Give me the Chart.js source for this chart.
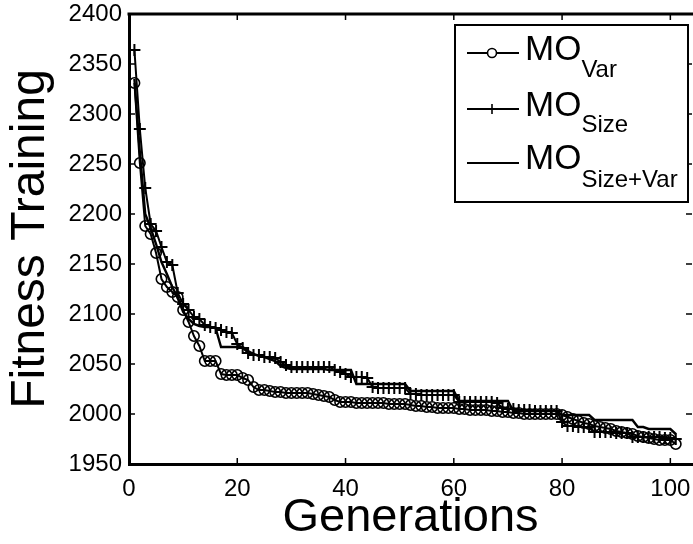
<!DOCTYPE html>
<html lang="en">
<head>
  <meta charset="UTF-8">
  <title>Fitness Training vs Generations</title>
  <style>
    body {
      margin: 0;
      background: #fff;
    }
    .chart-container {
      position: relative;
      width: 693px;
      height: 544px;
    }
  </style>
</head>
<body>
  <div class="chart-container">
    <canvas id="fitnessChart"></canvas>
  </div>

  <script src="https://cdn.jsdelivr.net/npm/chart.js"></script>
  <script>
    // Generation index (1..101)
    const generations = Array.from({ length: 101 }, (_, i) => i + 1);

    const moVar = [
      2331, 2251, 2188, 2180, 2161, 2135, 2127, 2122, 2117, 2104,
      2092, 2078, 2068, 2053, 2053, 2053, 2040, 2039, 2039, 2039,
      2036, 2034, 2027, 2024, 2024, 2023, 2022, 2022, 2021, 2021,
      2021, 2021, 2021, 2020, 2019, 2018, 2017, 2014, 2012, 2012,
      2012, 2011, 2011, 2011, 2011, 2011, 2011, 2010, 2010, 2010,
      2010, 2009, 2008, 2008, 2007, 2007, 2006, 2006, 2006, 2006,
      2005, 2005, 2004, 2004, 2004, 2004, 2003, 2003, 2002, 2002,
      2001, 2001, 2000, 2000, 2000, 2000, 2000, 2000, 2000, 1999,
      1997, 1995, 1993, 1991, 1990, 1988, 1987, 1986, 1985, 1983,
      1982, 1981, 1980, 1978, 1977, 1976, 1975, 1974, 1974, 1974,
      1970
    ];

    const moSize = [
      2364, 2285, 2226, 2190, 2183, 2167, 2152, 2149, 2121, 2110,
      2104, 2097, 2095, 2089, 2087, 2086, 2084, 2082, 2081, 2070,
      2066, 2061, 2059, 2059, 2057, 2057, 2056, 2052, 2049, 2047,
      2047, 2047, 2047, 2047, 2047, 2047, 2047, 2044, 2042, 2040,
      2037, 2037, 2037, 2036, 2027, 2026, 2026, 2026, 2026, 2026,
      2026, 2020, 2020, 2019, 2019, 2019, 2019, 2019, 2019, 2019,
      2012, 2012, 2012, 2012, 2012, 2012, 2012, 2011, 2006, 2005,
      2005, 2004, 2004, 2004, 2003, 2003, 2003, 2003, 2003, 1992,
      1988, 1988, 1987, 1987, 1987, 1982, 1982, 1982, 1982, 1981,
      1981, 1981, 1977, 1977, 1977, 1977, 1977, 1977, 1976, 1976,
      1975
    ];

    const moSizeVar = [
      2335, 2262, 2200, 2186, 2170, 2152, 2140, 2127, 2116, 2102,
      2095, 2090, 2088, 2087, 2087, 2086, 2067, 2067, 2067, 2067,
      2067, 2063, 2060, 2058, 2057, 2055, 2053, 2048, 2046, 2045,
      2045, 2045, 2045, 2045, 2045, 2045, 2044, 2044, 2044, 2044,
      2044, 2030, 2030, 2030, 2030, 2030, 2030, 2030, 2030, 2030,
      2030, 2023, 2023, 2023, 2023, 2023, 2023, 2023, 2023, 2023,
      2013, 2013, 2013, 2013, 2013, 2013, 2013, 2013, 2013, 2013,
      2003, 2003, 2003, 2003, 2003, 2003, 2003, 2003, 2003, 1999,
      1999, 1999, 1999, 1999, 1999, 1994, 1994, 1994, 1994, 1994,
      1994, 1994, 1994, 1987, 1987, 1985, 1985, 1985, 1985, 1985,
      1980
    ];

    const xTicks = [0, 20, 40, 60, 80, 100];
    const yTicks = [1950, 2000, 2050, 2100, 2150, 2200, 2250, 2300, 2350, 2400];

    const legendItems = [
      { main: 'MO', sub: 'Var', marker: 'circle' },
      { main: 'MO', sub: 'Size', marker: 'plus' },
      { main: 'MO', sub: 'Size+Var', marker: null }
    ];

    const FONT = "'Liberation Sans', Arial, sans-serif";

    function toPoints(values) {
      return values.map((v, i) => ({ x: generations[i], y: v }));
    }

    // matlab-style box: top edge + inward ticks on all four sides
    const framePlugin = {
      id: 'frame',
      afterDraw(chart) {
        const ctx = chart.ctx;
        const a = chart.chartArea;
        const xs = chart.scales.x;
        const ys = chart.scales.y;
        const len = 6;
        ctx.save();
        ctx.strokeStyle = '#000';
        ctx.lineWidth = 3;
        ctx.beginPath();
        ctx.moveTo(a.left - 1.5, a.top);
        ctx.lineTo(a.right + 2, a.top);
        ctx.stroke();
        ctx.lineWidth = 1.5;
        ctx.beginPath();
        xTicks.forEach(t => {
          const px = xs.getPixelForValue(t);
          ctx.moveTo(px, a.bottom);
          ctx.lineTo(px, a.bottom - len);
          ctx.moveTo(px, a.top);
          ctx.lineTo(px, a.top + len);
        });
        yTicks.forEach(t => {
          const py = ys.getPixelForValue(t);
          ctx.moveTo(a.left, py);
          ctx.lineTo(a.left + len, py);
          ctx.moveTo(a.right, py);
          ctx.lineTo(a.right - len, py);
        });
        ctx.stroke();
        ctx.restore();
      }
    };

    // legend box with subscripted labels
    const legendPlugin = {
      id: 'subLegend',
      afterDraw(chart) {
        const ctx = chart.ctx;
        const rows = [53, 109, 163];
        const mainBase = [60, 116, 169];
        const subBase = [77, 132, 187];
        ctx.save();
        ctx.fillStyle = '#fff';
        ctx.fillRect(455, 25, 233, 177);
        ctx.strokeStyle = '#000';
        ctx.lineWidth = 2;
        ctx.strokeRect(455, 25, 233, 177);
        legendItems.forEach((item, i) => {
          const y = rows[i];
          ctx.lineWidth = 2.2;
          ctx.beginPath();
          ctx.moveTo(467, y);
          ctx.lineTo(519, y);
          ctx.stroke();
          ctx.lineWidth = 1.6;
          if (item.marker === 'circle') {
            ctx.fillStyle = '#fff';
            ctx.beginPath();
            ctx.arc(492, y, 4.5, 0, Math.PI * 2);
            ctx.fill();
            ctx.stroke();
          } else if (item.marker === 'plus') {
            ctx.beginPath();
            ctx.moveTo(492, y - 5);
            ctx.lineTo(492, y + 5);
            ctx.stroke();
          }
          ctx.fillStyle = '#000';
          ctx.textBaseline = 'alphabetic';
          ctx.textAlign = 'left';
          ctx.font = '35px ' + FONT;
          ctx.fillText(item.main, 525, mainBase[i]);
          const w = ctx.measureText(item.main).width;
          ctx.font = '24px ' + FONT;
          ctx.fillText(item.sub, 525 + w, subBase[i]);
        });
        ctx.restore();
      }
    };

    const ctx = document.getElementById('fitnessChart').getContext('2d');
    new Chart(ctx, {
      type: 'line',
      data: {
        datasets: [
          {
            label: 'MO Var',
            data: toPoints(moVar),
            borderColor: '#000',
            borderWidth: 2,
            pointStyle: 'circle',
            pointRadius: 5.2,
            pointBorderWidth: 1.6,
            pointBorderColor: '#000',
            pointBackgroundColor: 'rgba(0,0,0,0)',
            tension: 0,
            order: 3
          },
          {
            label: 'MO Size',
            data: toPoints(moSize),
            borderColor: '#000',
            borderWidth: 2,
            pointStyle: 'cross',
            pointRadius: 6,
            pointBorderWidth: 2,
            pointBorderColor: '#000',
            tension: 0,
            order: 2
          },
          {
            label: 'MO Size+Var',
            data: toPoints(moSizeVar),
            borderColor: '#000',
            borderWidth: 2.4,
            pointRadius: 0,
            tension: 0,
            order: 1
          }
        ]
      },
      options: {
        responsive: true,
        maintainAspectRatio: false,
        animation: false,
        events: [],
        layout: { autoPadding: false, padding: { top: 14, right: 1, left: 0, bottom: 0 } },
        plugins: {
          legend: { display: false },
          tooltip: { enabled: false }
        },
        scales: {
          x: {
            type: 'linear',
            min: 0,
            max: 104,
            afterBuildTicks(scale) {
              scale.ticks = xTicks.map(v => ({ value: v }));
            },
            afterFit(scale) {
              scale.height = 80;
              scale.paddingRight = 0;
              scale.paddingLeft = 0;
            },
            grid: { display: false, drawTicks: false },
            border: { display: true, color: '#000', width: 3 },
            ticks: {
              color: '#000',
              font: { family: FONT, size: 24, lineHeight: 2.1 },
              padding: 0,
              maxRotation: 0,
              callback: v => String(v)
            },
            title: {
              display: true,
              text: 'Generations',
              color: '#000',
              font: { family: FONT, size: 47, lineHeight: 1.0 },
              padding: { top: 0, bottom: 2 }
            }
          },
          y: {
            min: 1950,
            max: 2400,
            afterBuildTicks(scale) {
              scale.ticks = yTicks.map(v => ({ value: v }));
            },
            afterFit(scale) {
              scale.width = 129;
              scale.paddingTop = 0;
              scale.paddingBottom = 0;
            },
            grid: { display: false, drawTicks: false },
            border: { display: true, color: '#000', width: 3 },
            ticks: {
              color: '#000',
              font: { family: FONT, size: 24 },
              padding: 7,
              callback: v => String(v)
            },
            title: {
              display: true,
              text: 'Fitness Training',
              color: '#000',
              font: { family: FONT, size: 48 },
              padding: { top: 2, bottom: 0 }
            }
          }
        }
      },
      plugins: [framePlugin, legendPlugin]
    });
  </script>
</body>
</html>
